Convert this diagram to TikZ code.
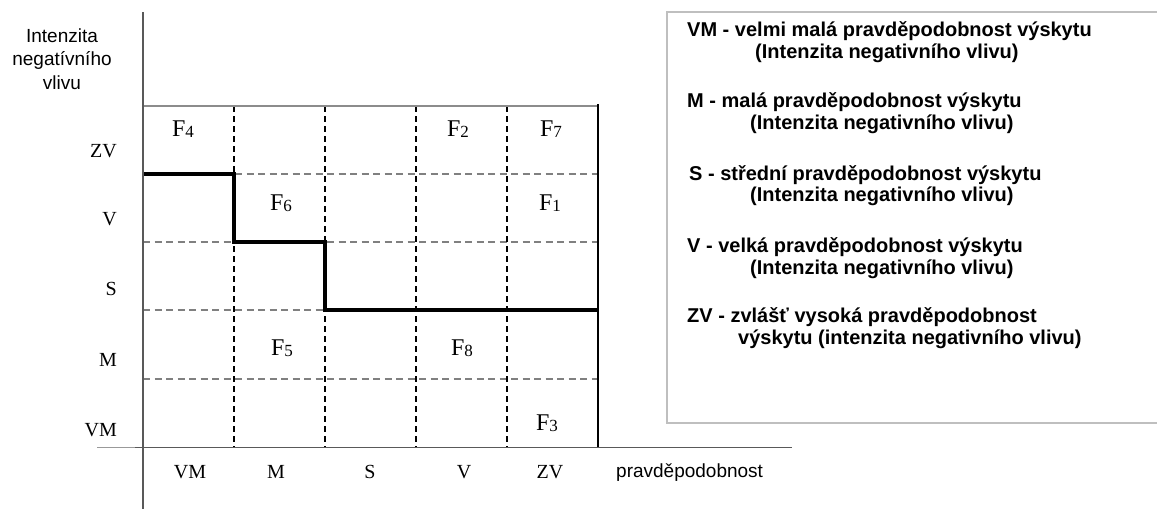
\documentclass[tikz,border=0pt]{standalone}
\usepackage{fontspec}
\setmainfont{Liberation Serif}
\newfontfamily\arialf{Liberation Sans}
% factor label: large F with a smaller, slightly lowered index
\newcommand{\flab}[1]{F\raisebox{-1.5pt}{\fontsize{17}{17}\selectfont #1}}
\begin{document}
\begin{tikzpicture}[x=1pt,y=-1pt,
  axisline/.style={draw=black!65, line width=1.8pt},
  topline/.style={draw=black!45, line width=1.3pt},
  rowline/.style={draw=black!50, line width=2.8pt, dash pattern=on 7pt off 4.5pt},
  colline/.style={draw=black, line width=1.4pt, dash pattern=on 6pt off 4pt},
  borderline/.style={draw=black, line width=1.6pt},
  stepline/.style={draw=black, line width=3.4pt},
  legendbox/.style={draw=black!25, line width=1.3pt},
  serif/.style={font=\fontsize{20}{20}\selectfont, inner sep=0pt},
  flabel/.style={font=\fontsize{24}{24}\selectfont, anchor=base, inner sep=0pt},
  sanslab/.style={font=\arialf\fontsize{19}{19}\selectfont, anchor=base, inner sep=0pt},
  legendtext/.style={font=\arialf\bfseries\fontsize{20}{20}\selectfont, anchor=base west, inner sep=0pt}
]
\useasboundingbox (0,0) rectangle (1157,509);

% grid corners
\coordinate (tl) at (143,106);
\coordinate (tr) at (598,106);

% horizontal dashed row separators
\foreach \yy/\nm in {174/r1,242/r2,310/r3,379/r4}{
  \coordinate (\nm a) at (143,\yy);
  \coordinate (\nm b) at (598,\yy);
  \draw[rowline] (\nm a) -- (\nm b);
}
% vertical dashed column separators
\foreach \xx/\nm in {234/c1,325/c2,416/c3,507/c4}{
  \coordinate (\nm a) at (\xx,106);
  \coordinate (\nm b) at (\xx,447);
  \draw[colline] (\nm a) -- (\nm b);
}

% top edge and right border of the matrix
\draw[topline] (tl) -- (tr);
\coordinate (rb1) at (598,104);
\coordinate (rb2) at (598,447);
\draw[borderline] (rb1) -- (rb2);

% step boundary
\coordinate (s0) at (143,174);
\coordinate (s1) at (234,174);
\coordinate (s2) at (234,242);
\coordinate (s3) at (325,242);
\coordinate (s4) at (325,310);
\coordinate (s5) at (598,310);
\draw[stepline] (s0) -- (s1) -- (s2) -- (s3) -- (s4) -- (s5);

% axes
\coordinate (ya) at (143,12);
\coordinate (yb) at (143,509);
\coordinate (xs) at (97,447.5);
\coordinate (xa) at (135,447.5);
\coordinate (xb) at (792,447.5);
\draw[draw=black!40, line width=0.6pt] (xs) -- (xa);
\draw[axisline] (xa) -- (xb);
\draw[axisline] (ya) -- (yb);

% axis titles
\node[sanslab] (yl1) at (62,42) {Intenzita};
\node[sanslab] (yl2) at (62,65) {negatívního};
\node[sanslab] (yl3) at (62,89) {vlivu};
\node[sanslab, anchor=base west] (xl) at (616,477) {pravděpodobnost};

% row labels
\node[serif, anchor=base east] (rZV) at (117,157) {ZV};
\node[serif, anchor=base east] (rV)  at (117,225) {V};
\node[serif, anchor=base east] (rS)  at (117,295) {S};
\node[serif, anchor=base east] (rM)  at (117,366) {M};
\node[serif, anchor=base east] (rVM) at (117,436) {VM};

% column labels
\node[serif, anchor=base] (cVM) at (190,478) {VM};
\node[serif, anchor=base] (cM)  at (276,478) {M};
\node[serif, anchor=base] (cS)  at (370,478) {S};
\node[serif, anchor=base] (cV)  at (464,478) {V};
\node[serif, anchor=base] (cZV) at (550,478) {ZV};

% factors
\node[flabel] (f4) at (183,136) {\flab{4}};
\node[flabel] (f2) at (458,136) {\flab{2}};
\node[flabel] (f7) at (551,136) {\flab{7}};
\node[flabel] (f6) at (281,210) {\flab{6}};
\node[flabel] (f1) at (550,210) {\flab{1}};
\node[flabel] (f5) at (282,355) {\flab{5}};
\node[flabel] (f8) at (462,355) {\flab{8}};
\node[flabel] (f3) at (547,430) {\flab{3}};

% legend
\coordinate (lb1) at (1157,12);
\coordinate (lb2) at (667,12);
\coordinate (lb3) at (667,423);
\coordinate (lb4) at (1157,423);
\draw[legendbox] (lb1) -- (lb2) -- (lb3) -- (lb4);

\node[legendtext] (l1a) at (687,36)  {VM - velmi malá pravděpodobnost výskytu};
\node[legendtext] (l1b) at (755,58)  {(Intenzita negativního vlivu)};
\node[legendtext] (l2a) at (687,107) {M - malá pravděpodobnost výskytu};
\node[legendtext] (l2b) at (750,129) {(Intenzita negativního vlivu)};
\node[legendtext] (l3a) at (689,180) {S - střední pravděpodobnost výskytu};
\node[legendtext] (l3b) at (750,201) {(Intenzita negativního vlivu)};
\node[legendtext] (l4a) at (687,252) {V - velká pravděpodobnost výskytu};
\node[legendtext] (l4b) at (750,274) {(Intenzita negativního vlivu)};
\node[legendtext] (l5a) at (687,322) {ZV - zvlášť vysoká pravděpodobnost};
\node[legendtext] (l5b) at (738,344) {výskytu (intenzita negativního vlivu)};
\end{tikzpicture}
\end{document}
